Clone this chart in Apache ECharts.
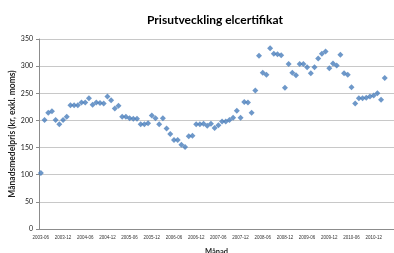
<!DOCTYPE html>
<html>
<head>
<meta charset="utf-8">
<script src="https://cdn.jsdelivr.net/npm/echarts@6/dist/echarts.min.js"></script>
<style>
  html, body { margin: 0; padding: 0; background: #fff; }
  #chart { width: 394px; height: 253px; }
</style>
</head>
<body>
<div id="chart"></div>
<script>
// månadsmedelpris, kr exkl. moms
var prices = [
  103, 201, 214, 217, 201, 193, 201, 207, 228, 228,
  228, 233, 233, 241, 229, 233, 232, 231, 244, 237,
  222, 227, 207, 207, 204, 203, 203, 193, 193, 195,
  209, 204, 193, 204, 185, 175, 164, 164, 155, 151,
  171, 172, 193, 193, 194, 190, 194, 186, 191, 198,
  198, 201, 205, 218, 205, 234, 233, 214, 255, 319,
  288, 284, 333, 323, 322, 320, 260, 304, 288, 283,
  304, 304, 298, 287, 298, 314, 323, 327, 296, 305,
  301, 321, 287, 284, 261, 231, 241, 241, 242, 244,
  246, 250, 238, 278
];
var firstYear = 2003, firstMonth = 6;
var extraMonths = 2; // axeln fortsätter lite efter sista punkten

var months = [];
for (var i = 0; i < prices.length + extraMonths; i++) {
  var m = firstMonth - 1 + i;
  var y = firstYear + Math.floor(m / 12);
  var mm = (m % 12) + 1;
  months.push(y + '-' + (mm < 10 ? '0' + mm : mm));
}

var chart = echarts.init(document.getElementById('chart'));
var option = {
  backgroundColor: '#fff',
  animation: false,
  title: {
    text: 'Prisutveckling elcertifikat',
    left: 210,
    top: 9,
    textAlign: 'center',
    textStyle: { fontFamily: 'Lato', fontSize: 12, fontWeight: 'bold', color: '#000' }
  },
  grid: { left: 39, right: 0, top: 39, bottom: 24, outerBoundsMode: 'none' },
  xAxis: {
    type: 'category',
    data: months,
    boundaryGap: true,
    name: 'Månad',
    nameLocation: 'middle',
    nameGap: 19,
    nameMoveOverlap: false,
    nameTextStyle: { fontFamily: 'Lato', fontSize: 7.5, fontWeight: 'bold', color: '#222' },
    axisLine: { lineStyle: { color: '#8c8c8c', width: 1 } },
    axisTick: { interval: 5, length: 3, lineStyle: { color: '#8c8c8c' } },
    axisLabel: { interval: 5, fontFamily: 'Liberation Sans', fontSize: 4.5, color: '#333', margin: 6 },
    splitLine: { show: false }
  },
  yAxis: {
    type: 'value',
    min: 0,
    max: 350,
    interval: 50,
    name: 'Månadsmedelpris (kr, exkl. moms)',
    nameLocation: 'middle',
    nameGap: 22,
    nameMoveOverlap: false,
    nameTextStyle: { fontFamily: 'Lato', fontSize: 8.5, fontWeight: 'bold', color: '#222' },
    axisLine: { show: true, lineStyle: { color: '#8c8c8c', width: 1 } },
    axisTick: { show: true, length: 3, lineStyle: { color: '#8c8c8c' } },
    axisLabel: { fontFamily: 'Lato', fontSize: 7, color: '#222', margin: 6 },
    splitLine: { lineStyle: { color: '#c8c8c8', width: 1 } }
  },
  series: [{
    type: 'scatter',
    data: prices,
    symbol: 'diamond',
    symbolSize: [6, 6],
    itemStyle: { color: '#4a7ebb' }
  }]
};
chart.setOption(option);
</script>
</body>
</html>
